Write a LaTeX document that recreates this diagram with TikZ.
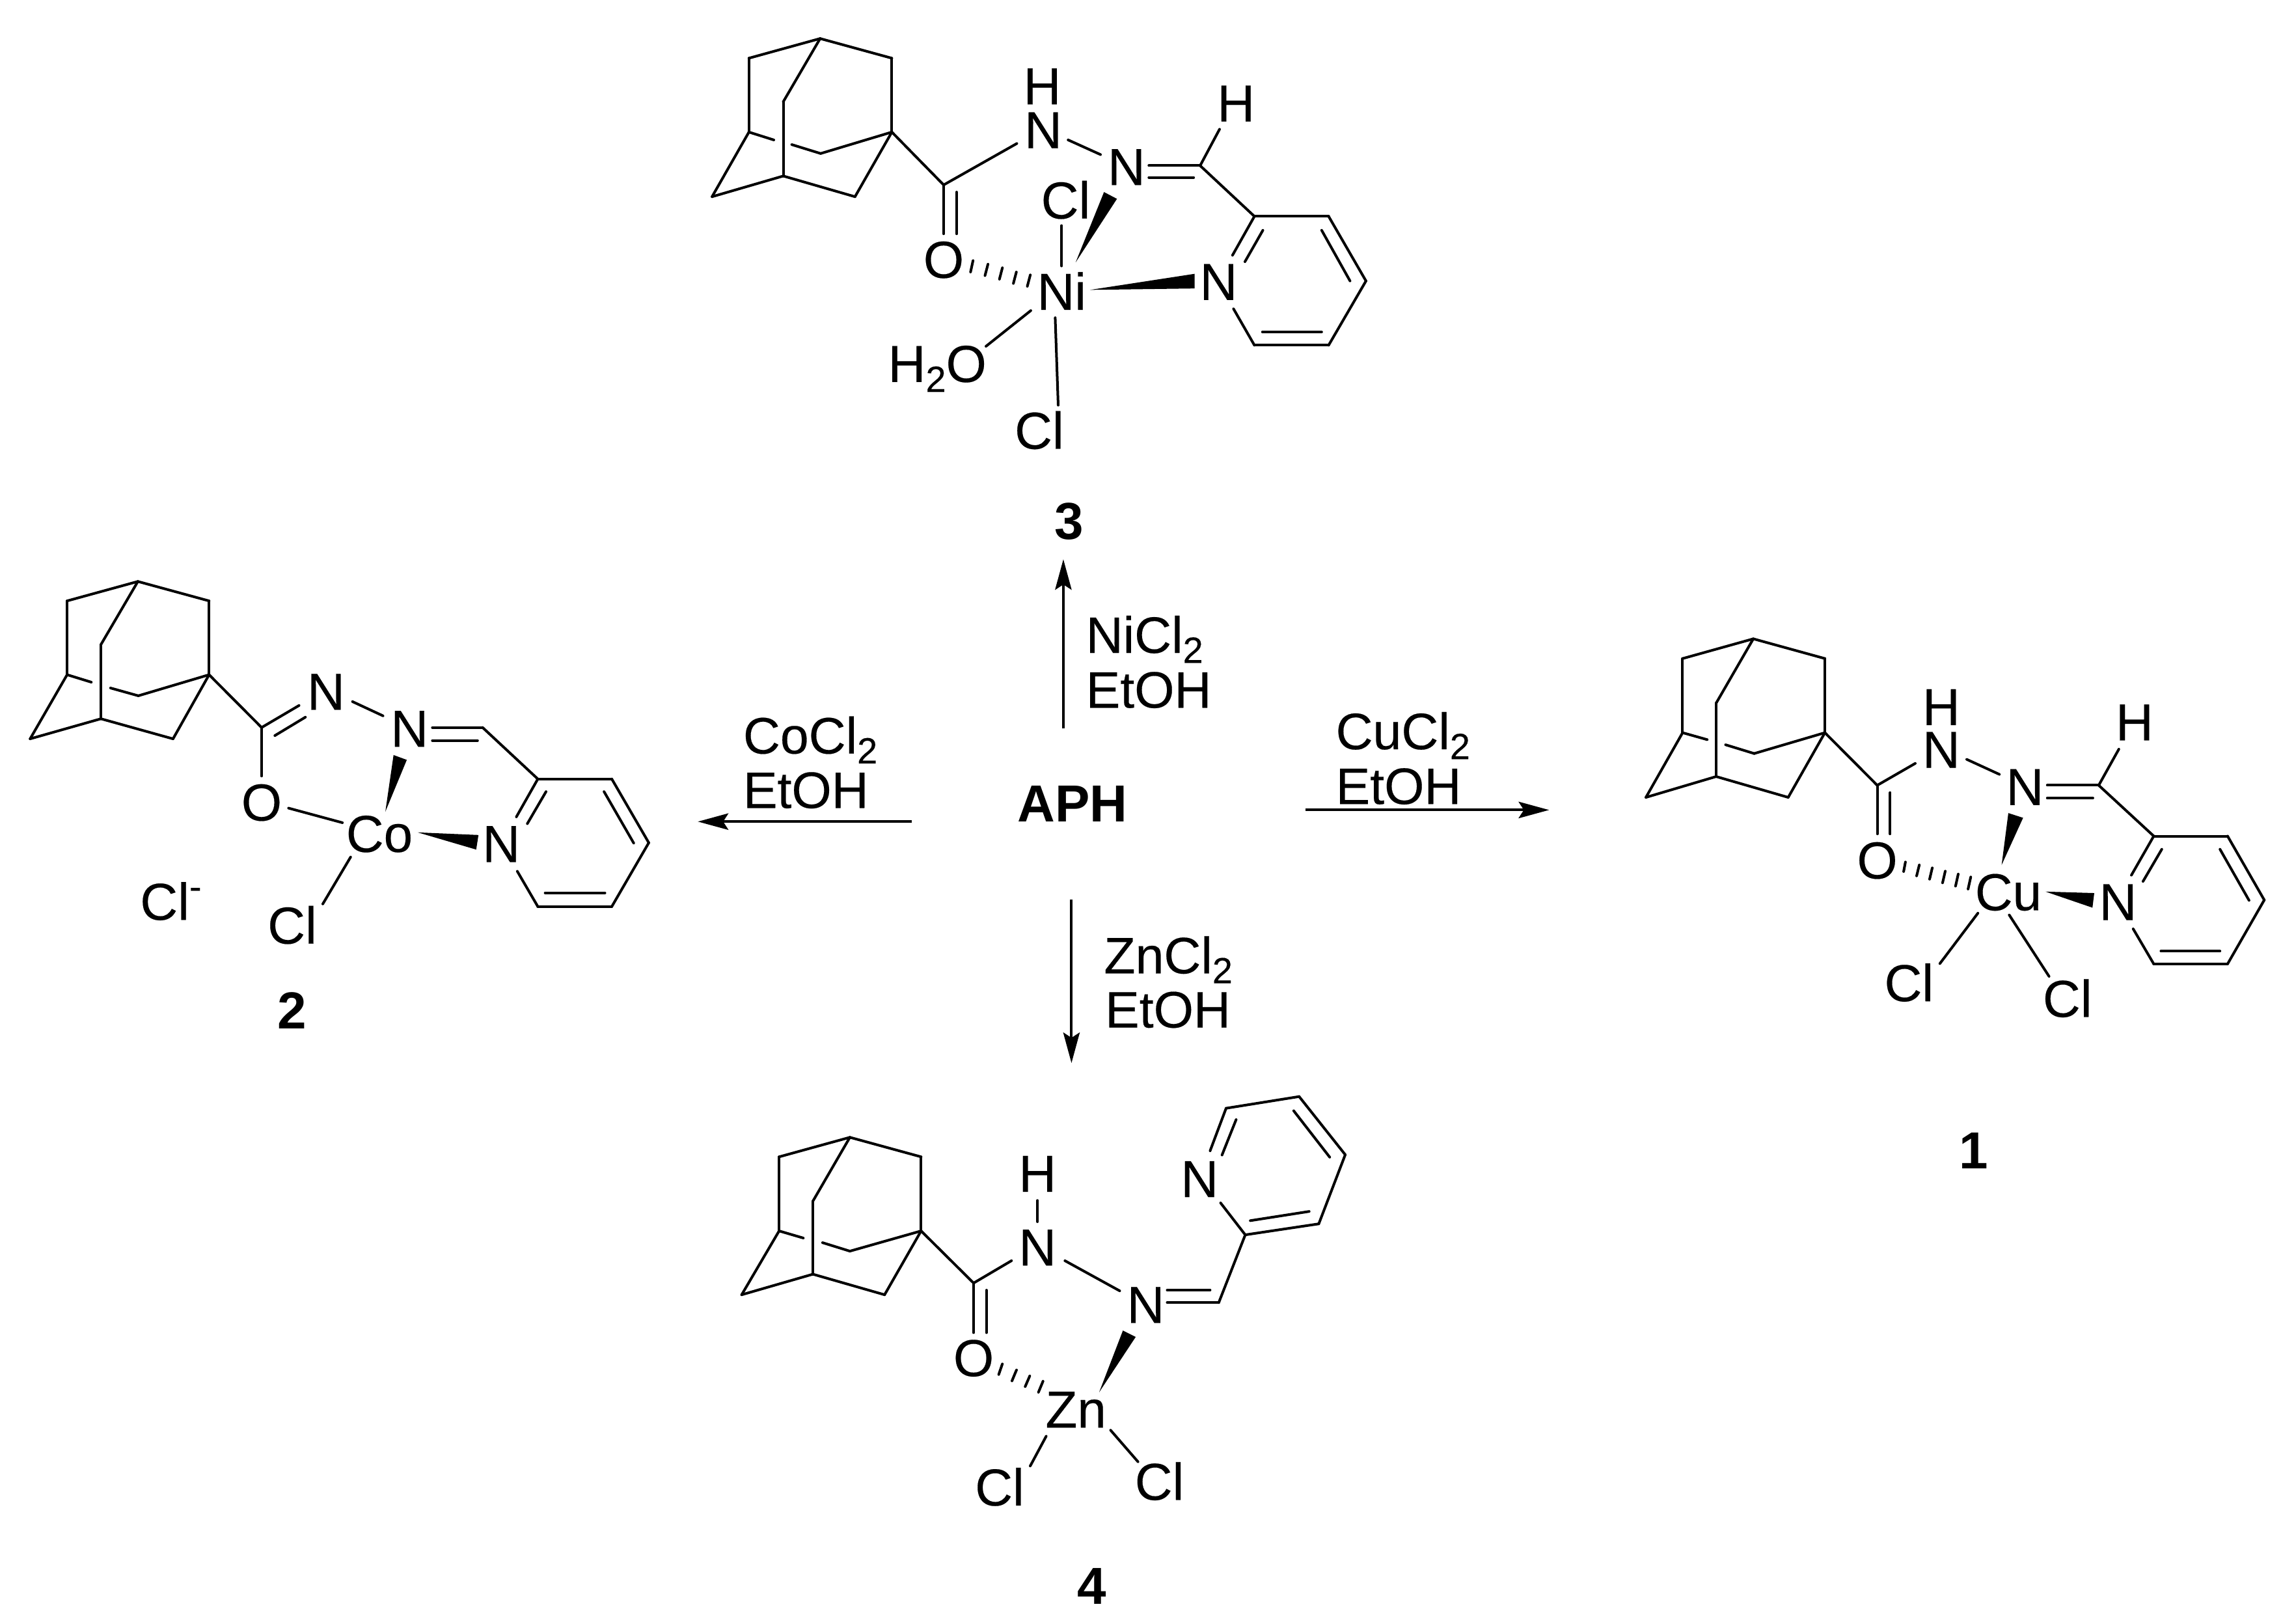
\documentclass[tikz,border=0pt]{standalone}
\usepackage{fontspec}
\setmainfont{Liberation Sans}[UprightFeatures={FakeBold=0.25}]
\usetikzlibrary{arrows.meta}
\newcommand\pts[1]{\foreach \n/\x/\y in {#1} {\coordinate (\n) at (\x,\y);}}
\newcommand\bonds[1]{\foreach \p/\q in {#1} {\draw[bond] (\p) -- (\q);}}
\newcommand\wedgefill[3]{\fill[line join=round] (#1) -- (#2) -- (#3) -- cycle;}
\newcommand\subdigit[1]{\raisebox{-3.8pt}{\fontsize{14}{14}\selectfont #1}}
\tikzset{
  bond/.style={line width=1pt,line cap=round,line join=round},
  atom/.style={font=\fontsize{20}{24}\selectfont,inner sep=0pt,outer sep=0pt},
  reagent/.style={font=\fontsize{19.7}{23}\selectfont,inner sep=0pt,outer sep=0pt,anchor=base west},
  bold label/.style={font=\fontsize{20}{24}\selectfont\bfseries,inner sep=0pt,outer sep=0pt},
  reaction/.style={line width=1pt,-{Stealth[length=11.7pt,width=6.3pt,inset=2pt]}},
}
\begin{document}
\begin{tikzpicture}
\useasboundingbox (0pt,0pt) rectangle (882pt,-623.5pt);
% ---------- complex 3 ----------
\begin{scope}[shift={(250pt,0pt)},x=0.19132pt,y=-0.13711pt,name prefix=m3-]
\pts{T/340/108,UL/197/163,UR/484/163,I/266/285,ML/197/370,MR/484/370,MC/341/430,B/266/493,LL/123/551,LR/410/551,Ma/247/392,Mb/283/405,
C/588/518,Oa/588/655,ia/614/538,ib/614/655,Na/735/402,Nb/838/392,Nc/903/433,Nd/1000/464,Ce/1103/464,ic/1000/497,id/1090/497,He/1142/362,
R1/1212/606,R2/1361/606,R3/1436/787,R4/1361/967,R5/1212/967,Rn/1168/715,Rm/1170/865,ie/1229/645,if/1193/733,ig/1347/645,ih/1404/787,ii/1228/930,ij/1347/930,
Cla/825/632,Clb/825/745,W1t/853/735,W1a/910/538,W1b/936/557,W2t/882/812,W2a/1092/767,W2b/1092/808,
h1a/647/730,h1b/642/762,h2a/677/740,h2b/671/772,h3a/706/750,h3b/700/782,h4a/734/762,h4b/728/794,h5a/762/770,h5b/756/802,
Wa/763/870,Wb/673/970,Xa/812/890,Xb/818/1135}
\bonds{T/UL,T/UR,UL/ML,UR/MR,T/I,I/B,ML/LL,LL/B,B/LR,LR/MR,MR/MC,MC/Mb,ML/Ma,MR/C,C/Oa,ia/ib,C/Na,Nb/Nc,Nd/Ce,ic/id,Ce/He,Ce/R1,R1/R2,R2/R3,R3/R4,R4/R5,R1/Rn,R5/Rm,ie/if,ig/ih,ii/ij,Cla/Clb,h1a/h1b,h2a/h2b,h3a/h3b,h4a/h4b,h5a/h5b,Wa/Wb,Xa/Xb}
\wedgefill{W1t}{W1a}{W1b}
\wedgefill{W2t}{W2a}{W2b}
\node[atom] (h1) at (786,242) {H};
\node[atom] (n1) at (788,365) {N};
\node[atom] (n2) at (955,468) {N};
\node[atom] (h2) at (1175,290) {H};
\node[atom] (o) at (588,728) {O};
\node[atom] (cl1) at (833,560) {Cl};
\node[atom] (ni) at (825,815) {Ni};
\node[atom] (n3) at (1140,790) {N};
\node[atom,anchor=base east] (water) at (674,1070) {H\subdigit{2}O};
\node[atom] (cl2) at (780,1205) {Cl};
\node[bold label] (lab3) at (840,1460) {3};
\end{scope}
% ---------- complex 2 ----------
\begin{scope}[shift={(0pt,-215pt)},x=0.17538pt,y=-0.12436pt,name prefix=m2-]
\pts{T/302/67,UL/147/127,UR/458/127,I/221/262,ML/147/355,MR/458/355,MC/303/420,B/221/491,LL/66/553,LR/379/553,Ma/200/378,Mb/242/396,
C/573/518,Na/655/450,ia/602/543,ib/669/486,Nb/772/438,Nc/839/482,Nd/947/518,Ce/1057/518,ic/947/558,id/1046/558,
R1/1178/677,R2/1340/677,R3/1421/874,R4/1340/1071,R5/1178/1071,Rn/1131/794,Rm/1133/962,ie/1196/716,if/1155/815,ig/1323/716,ih/1388/875,ii/1194/1029,ij/1325/1029,
Oa/573/668,Ob/632/767,Oc/750/812,W1t/844/778,W1a/862/603,W1b/891/618,W2t/915/842,W2a/1048/850,W2b/1043/895,Xa/768/918,Xb/707/1063}
\bonds{T/UL,T/UR,UL/ML,UR/MR,T/I,I/B,ML/LL,LL/B,B/LR,LR/MR,MR/MC,MC/Mb,ML/Ma,MR/C,C/Na,ia/ib,Nb/Nc,Nd/Ce,ic/id,Ce/R1,R1/R2,R2/R3,R3/R4,R4/R5,R1/Rn,R5/Rm,ie/if,ig/ih,ii/ij,C/Oa,Ob/Oc,Xa/Xb}
\wedgefill{W1t}{W1a}{W1b}
\wedgefill{W2t}{W2a}{W2b}
\node[atom] (n1) at (714,408) {N};
\node[atom] (n2) at (897,522) {N};
\node[atom] (n3) at (1098,878) {N};
\node[atom] (o) at (573,750) {O};
\node[atom] (co) at (831,847) {Co};
\node[atom] (cl) at (640,1128) {Cl};
\node[atom,anchor=base west] (ion) at (307,1112) {Cl\raisebox{8pt}{\fontsize{14}{14}\selectfont -}};
\node[bold label] (lab2) at (640,1393) {2};
\end{scope}
% ---------- complex 1 ----------
\begin{scope}[shift={(612.5pt,-237.5pt)},x=0.17188pt,y=-0.14031pt,name prefix=m1-]
\pts{T/355/56,UL/197/110,UR/515/110,I/272/232,ML/197/313,MR/515/313,MC/357/370,B/272/433,LL/115/490,LR/433/490,Ma/252/332,Mb/293/346,
C/632/457,Oa/632/590,ia/661/477,ib/661/590,Na/717/397,Nb/832/386,Nc/905/427,Nd/1012/457,Ce/1127/457,ic/1012/492,id/1114/492,He/1172/358,
R1/1250/596,R2/1415/596,R3/1497/771,R4/1415/946,R5/1250/946,Rn/1200/703,Rm/1204/850,ie/1268/632,if/1226/720,ig/1398/632,ih/1463/772,ii/1266/911,ij/1398/911,
h1a/695/667,h1b/691/693,h2a/726/675,h2b/720/705,h3a/755/683,h3b/749/714,h4a/784/692,h4b/778/724,h5a/813/700,h5b/807/733,h6a/841/708,h6b/835/741,
W1t/910/675,W1a/925/533,W1b/958/546,W2t/1008/748,W2a/1117/752,W2b/1113/792,Xa/857/807,Xb/772/945,Ya/927/812,Yb/1016/980}
\bonds{T/UL,T/UR,UL/ML,UR/MR,T/I,I/B,ML/LL,LL/B,B/LR,LR/MR,MR/MC,MC/Mb,ML/Ma,MR/C,C/Oa,ia/ib,C/Na,Nb/Nc,Nd/Ce,ic/id,Ce/He,Ce/R1,R1/R2,R2/R3,R3/R4,R4/R5,R1/Rn,R5/Rm,ie/if,ig/ih,ii/ij,h1a/h1b,h2a/h2b,h3a/h3b,h4a/h4b,h5a/h5b,h6a/h6b,Xa/Xb,Ya/Yb}
\wedgefill{W1t}{W1a}{W1b}
\wedgefill{W2t}{W2a}{W2b}
\node[atom] (h1) at (775,243) {H};
\node[atom] (n1) at (775,360) {N};
\node[atom] (n2) at (962,462) {N};
\node[atom] (h2) at (1207,285) {H};
\node[atom] (n3) at (1170,777) {N};
\node[atom] (o) at (632,663) {O};
\node[atom] (cu) at (925,750) {Cu};
\node[atom] (cl1) at (703,997) {Cl};
\node[atom] (cl2) at (1057,1040) {Cl};
\node[bold label] (lab1) at (848,1458) {1};
\end{scope}
% ---------- complex 4 ----------
\begin{scope}[shift={(270pt,-410pt)},x=0.17538pt,y=-0.13617pt,name prefix=m4-]
\pts{T/322/197,UL/167/252,UR/478/252,I/241/377,ML/167/461,MR/478/461,MC/322/518,B/241/583,LL/85/641,LR/398/641,Ma/220/481,Mb/262/494,
C/593/608,Oa/593/748,ia/621/628,ib/621/748,Na/676/545,Ha/733/375,Hb/733/435,Nb/793/545,Nc/913/630,Nd/1017/663,Ce/1130/663,ic/1017/628,id/1111/628,
R1/1188/472,R2/1349/441,R3/1407/246,R4/1306/82,R5/1146/115,Rn/1111/235,Rm/1134/382,ie/1199/432,if/1328/406,ig/1373/253,ih/1294/122,ii/1168/147,ij/1137/247,
h1a/656/836,h1b/648/866,h2a/687/853,h2b/677/884,h3a/716/870,h3b/706/900,h4a/745/885,h4b/735/916,
W1t/868/916,W1a/920/742,W1b/948/760,Xa/752/1040,Xb/717/1124,Ya/893/1023,Yb/953/1112}
\bonds{T/UL,T/UR,UL/ML,UR/MR,T/I,I/B,ML/LL,LL/B,B/LR,LR/MR,MR/MC,MC/Mb,ML/Ma,MR/C,C/Oa,ia/ib,C/Na,Ha/Hb,Nb/Nc,Nd/Ce,ic/id,Ce/R1,R1/R2,R2/R3,R3/R4,R4/R5,R5/Rn,R1/Rm,ie/if,ig/ih,ii/ij,h1a/h1b,h2a/h2b,h3a/h3b,h4a/h4b,Xa/Xb,Ya/Yb}
\wedgefill{W1t}{W1a}{W1b}
\node[atom] (h1) at (733,300) {H};
\node[atom] (n1) at (733,508) {N};
\node[atom] (n2) at (970,670) {N};
\node[atom] (n3) at (1088,315) {N};
\node[atom] (o) at (593,820) {O};
\node[atom] (zn) at (817,965) {Zn};
\node[atom] (cl1) at (650,1183) {Cl};
\node[atom] (cl2) at (1000,1167) {Cl};
\node[bold label] (lab4) at (852,1463) {4};
\end{scope}
% ---------- centre: APH, arrows and reagents ----------
\begin{scope}[shift={(262.5pt,-212.5pt)},x=0.22321pt,y=-0.12755pt]
\node[bold label] (aph) at (670,755) {APH};
\pts{niS/654/528,niE/654/18,coS/393/808,coE/25/808,cuS/1071/773,cuE/1490/773,znS/668/1042,znE/668/1535}
\draw[reaction] (niS) -- (niE);
\draw[reaction] (coS) -- (coE);
\draw[reaction] (cuS) -- (cuE);
\draw[reaction] (znS) -- (znE);
\node[reagent] (ni1) at (693,300) {NiCl\subdigit{2}};
\node[reagent] (ni2) at (693,465) {EtOH};
\node[reagent] (co1) at (103,603) {CoCl\subdigit{2}};
\node[reagent] (co2) at (103,767) {EtOH};
\node[reagent] (cu1) at (1123,590) {CuCl\subdigit{2}};
\node[reagent] (cu2) at (1123,755) {EtOH};
\node[reagent] (zn1) at (724,1265) {ZnCl\subdigit{2}};
\node[reagent] (zn2) at (726,1428) {EtOH};
\end{scope}
\end{tikzpicture}
\end{document}
